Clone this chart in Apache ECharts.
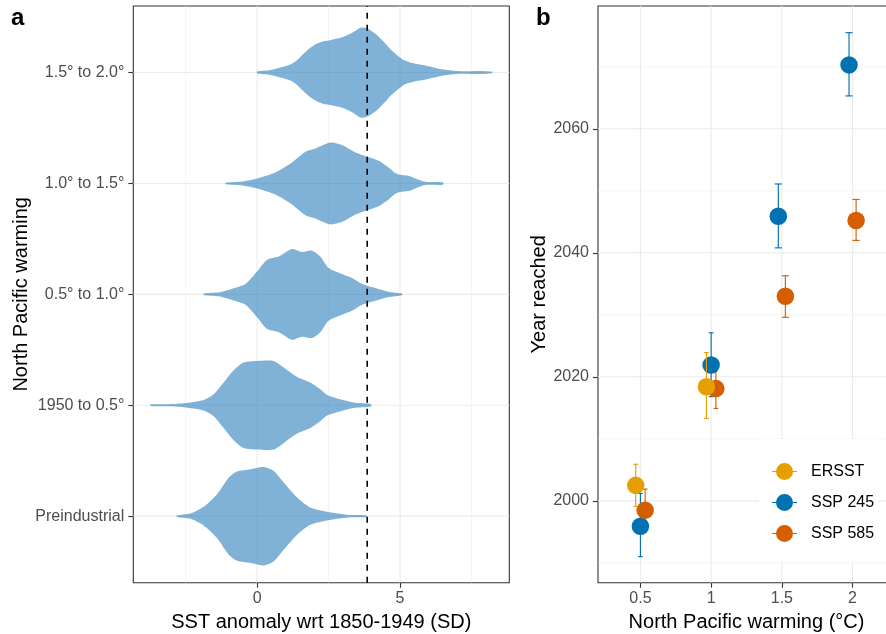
<!DOCTYPE html>
<html>
<head>
<meta charset="utf-8">
<script src="https://cdn.jsdelivr.net/npm/echarts@6/dist/echarts.min.js"></script>
<style>
  html, body { margin: 0; padding: 0; background: #fff; }
  #chart { width: 886px; height: 634px; }
</style>
</head>
<body>
<div id="chart"></div>
<script>
// ---------- Panel a: SST anomaly distributions per North Pacific warming band ----------
const warmingBands = ['Preindustrial', '1950 to 0.5°', '0.5° to 1.0°', '1.0° to 1.5°', '1.5° to 2.0°'];

// Violin outlines: anomaly (SD) and half-width (in band units)
const preindustrialX = [-2.81, -2.33, -1.87, -1.40, -0.99, -0.70, -0.23, 0.23, 0.58, 0.93, 1.40, 1.86, 2.45, 3.15, 3.83];
const preindustrialW = [0.007, 0.024, 0.084, 0.198, 0.349, 0.403, 0.423, 0.444, 0.408, 0.304, 0.168, 0.078, 0.039, 0.012, 0.007];

const to05X = [-3.73, -3.15, -2.57, -1.87, -1.52, -1.17, -0.82, -0.47, 0.00, 0.58, 0.93, 1.40, 1.86, 2.21, 2.45, 2.91, 3.38, 3.98];
const to05W = [0.007, 0.009, 0.018, 0.048, 0.099, 0.205, 0.315, 0.385, 0.399, 0.399, 0.340, 0.255, 0.205, 0.144, 0.093, 0.054, 0.024, 0.011];

const band05to10X = [-1.87, -1.34, -0.87, -0.41, 0.00, 0.35, 0.76, 1.22, 1.57, 1.92, 2.21, 2.50, 2.97, 3.32, 3.67, 4.14, 4.60, 5.07];
const band05to10W = [0.007, 0.018, 0.051, 0.094, 0.207, 0.313, 0.342, 0.409, 0.382, 0.394, 0.342, 0.238, 0.184, 0.148, 0.094, 0.058, 0.024, 0.007];

const band10to15X = [-1.10, -0.52, 0.00, 0.64, 1.22, 1.69, 2.04, 2.56, 2.97, 3.44, 3.85, 4.25, 4.60, 4.83, 5.00, 5.30, 5.53, 5.88, 6.50];
const band10to15W = [0.007, 0.018, 0.045, 0.099, 0.189, 0.286, 0.315, 0.369, 0.346, 0.279, 0.241, 0.205, 0.144, 0.094, 0.078, 0.069, 0.045, 0.015, 0.011];

const band15to20X = [0.00, 0.47, 1.16, 1.40, 1.63, 1.86, 2.10, 2.33, 2.56, 2.80, 3.03, 3.20, 3.38, 3.61, 3.79, 3.96, 4.20, 4.43, 4.66, 4.90, 5.13, 5.36, 5.59, 5.94, 6.52, 7.11, 7.80, 8.22];
const band15to20W = [0.009, 0.022, 0.072, 0.112, 0.171, 0.223, 0.261, 0.283, 0.292, 0.306, 0.322, 0.342, 0.367, 0.405, 0.403, 0.382, 0.337, 0.277, 0.211, 0.157, 0.112, 0.090, 0.076, 0.060, 0.027, 0.012, 0.014, 0.007];

const thresholdSD = 3.85;           // dashed reference line
const sstBreaks = [0, 5];
const sstMinorBreaks = [-2.5, 2.5, 7.5];
const bandBreaks = [1, 2, 3, 4, 5];

// ---------- Panel b: year each warming level is reached ----------
const warmingLevels = ['0.5', '1', '1.5', '2'];
const ersstYear = [2002.5, 2018.4, null, null];
const ersstLow  = [1999.1, 2013.3, null, null];
const ersstHigh = [2005.9, 2023.9, null, null];
const ssp245Year = [1995.9, 2021.9, 2045.9, 2070.3];
const ssp245Low  = [1991.0, 2016.8, 2040.8, 2065.3];
const ssp245High = [2001.2, 2027.1, 2051.1, 2075.5];
const ssp585Year = [1998.5, 2018.1, 2033.0, 2045.2];
const ssp585Low  = [1995.2, 2014.9, 2029.6, 2042.0];
const ssp585High = [2001.9, 2021.4, 2036.3, 2048.6];
const yearBreaks = [2000, 2020, 2040, 2060];
const yearMinorBreaks = [1990, 2010, 2030, 2050, 2070];
const levelBreaks = [1, 2, 3, 4];

const FONT = "'Liberation Sans', Arial, Helvetica, sans-serif";
const GRID_COLOR = '#EBEBEB';
const violinShapes = [
  [preindustrialX, preindustrialW],
  [to05X, to05W],
  [band05to10X, band05to10W],
  [band10to15X, band10to15W],
  [band15to20X, band15to20W]
];

// Reference grid lines drawn through the axis scales
function gridLineSeries(gridIndex, values, vertical, width) {
  return {
    type: 'custom', xAxisIndex: gridIndex, yAxisIndex: gridIndex,
    silent: true, z: 0, animation: false,
    data: values.map(v => [v]),
    renderItem(params, api) {
      const cs = params.coordSys;
      const v = api.value(0);
      if (vertical) {
        const x = api.coord([v, 0])[0];
        return { type: 'line', shape: { x1: x, y1: cs.y, x2: x, y2: cs.y + cs.height },
                 style: { stroke: GRID_COLOR, lineWidth: width } };
      }
      const y = api.coord([0, v])[1];
      return { type: 'line', shape: { x1: cs.x, y1: y, x2: cs.x + cs.width, y2: y },
               style: { stroke: GRID_COLOR, lineWidth: width } };
    }
  };
}

// Dodged positions for panel b (dodge width 0.2, error bar width follows the dodge)
const DODGE = 0.2;
const groups = [
  { name: 'ERSST',   color: '#E69F00', year: ersstYear,  low: ersstLow,  high: ersstHigh },
  { name: 'SSP 245', color: '#0072B2', year: ssp245Year, low: ssp245Low, high: ssp245High },
  { name: 'SSP 585', color: '#D55E00', year: ssp585Year, low: ssp585Low, high: ssp585High }
];
function dodged(gIdx) {
  const out = [];
  warmingLevels.forEach((lvl, j) => {
    if (groups[gIdx].year[j] == null) return;
    const present = groups.map((g, k) => g.year[j] != null ? k : -1).filter(k => k >= 0);
    const n = present.length;
    const pos = present.indexOf(gIdx);
    const x = (j + 1) - DODGE / 2 + DODGE / n * (pos + 0.5);
    out.push({ x, y: groups[gIdx].year[j], lo: groups[gIdx].low[j], hi: groups[gIdx].high[j], cap: DODGE / n });
  });
  return out;
}

function errorBarSeries(gIdx, z) {
  const g = groups[gIdx];
  return {
    type: 'custom', name: g.name, xAxisIndex: 1, yAxisIndex: 1, z, animation: false,
    itemStyle: { color: g.color },
    data: dodged(gIdx).map(d => [d.x, d.lo, d.hi, d.cap]),
    renderItem(params, api) {
      const x = api.value(0);
      const top = api.coord([x, api.value(2)]);
      const bot = api.coord([x, api.value(1)]);
      const half = api.size([api.value(3), 0])[0] / 2;
      const st = { stroke: g.color, lineWidth: 1.15 };
      return { type: 'group', children: [
        { type: 'line', shape: { x1: top[0], y1: top[1], x2: bot[0], y2: bot[1] }, style: st },
        { type: 'line', shape: { x1: top[0] - half, y1: top[1], x2: top[0] + half, y2: top[1] }, style: st },
        { type: 'line', shape: { x1: bot[0] - half, y1: bot[1], x2: bot[0] + half, y2: bot[1] }, style: st }
      ] };
    }
  };
}
function pointSeries(gIdx, z) {
  const g = groups[gIdx];
  return {
    type: 'scatter', name: g.name, xAxisIndex: 1, yAxisIndex: 1, z, animation: false,
    symbol: 'circle', symbolSize: 17.5,
    itemStyle: { color: g.color, opacity: 1 },
    data: dodged(gIdx).map(d => [d.x, d.y])
  };
}

const tickLabel = { fontSize: 16, color: '#4D4D4D', fontFamily: FONT };
const axisTitle = { fontSize: 20, color: '#000', fontFamily: FONT };
const tickStyle = { lineStyle: { color: '#333333', width: 1.1 }, length: 5 };
const hiddenLine = { show: false, onZero: false };
const KEY_ICON = 'path://M0,8H25V9H0ZM4,8.5A8.5,8.5,0,1,1,21,8.5A8.5,8.5,0,1,1,4,8.5Z';

const option = {
  animation: false,
  backgroundColor: '#fff',
  textStyle: { fontFamily: FONT },
  grid: [
    { left: 133.3, top: 6, width: 376, height: 576.7, show: true, borderColor: '#333333', borderWidth: 1.1,
      backgroundColor: 'transparent', containLabel: false, outerBoundsMode: 'none' },
    { left: 598, top: 6, width: 297, height: 576.7, show: true, borderColor: '#333333', borderWidth: 1.1,
      backgroundColor: 'transparent', containLabel: false, outerBoundsMode: 'none' }
  ],
  xAxis: [
    { type: 'value', gridIndex: 0, min: -4.33, max: 8.82, position: 'bottom',
      axisLine: hiddenLine, splitLine: { show: false },
      axisTick: Object.assign({ show: true, customValues: sstBreaks }, tickStyle),
      axisLabel: Object.assign({ customValues: sstBreaks, margin: 8, formatter: v => String(v) }, tickLabel),
      name: 'SST anomaly wrt 1850-1949 (SD)', nameLocation: 'middle', nameGap: 30, nameTextStyle: axisTitle },
    { type: 'value', gridIndex: 1, min: 0.4, max: 4.6, position: 'bottom',
      axisLine: hiddenLine, splitLine: { show: false },
      axisTick: Object.assign({ show: true, customValues: levelBreaks }, tickStyle),
      axisLabel: Object.assign({ customValues: levelBreaks, margin: 8,
        formatter: v => warmingLevels[Math.round(v) - 1] }, tickLabel),
      name: 'North Pacific warming (°C)', nameLocation: 'middle', nameGap: 30, nameTextStyle: axisTitle }
  ],
  yAxis: [
    { type: 'value', gridIndex: 0, min: 0.4, max: 5.6, position: 'left',
      axisLine: hiddenLine, splitLine: { show: false },
      axisTick: Object.assign({ show: true, customValues: bandBreaks }, tickStyle),
      axisLabel: Object.assign({ customValues: bandBreaks, margin: 9,
        formatter: v => warmingBands[Math.round(v) - 1] }, tickLabel),
      name: 'North Pacific warming', nameLocation: 'middle', nameRotate: 90, nameGap: 98, nameTextStyle: axisTitle },
    { type: 'value', gridIndex: 1, min: 1986.8, max: 2079.8, position: 'left',
      axisLine: hiddenLine, splitLine: { show: false },
      axisTick: Object.assign({ show: true, customValues: yearBreaks }, tickStyle),
      axisLabel: Object.assign({ customValues: yearBreaks, margin: 9, formatter: v => String(v) }, tickLabel),
      name: 'Year reached', nameLocation: 'middle', nameRotate: 90, nameGap: 49, nameTextStyle: axisTitle }
  ],
  legend: {
    orient: 'vertical', left: 759, top: 439,
    padding: [24, 4, 20, 13], itemGap: 14, itemWidth: 25, itemHeight: 17,
    backgroundColor: '#fff', selectedMode: false,
    textStyle: { fontSize: 16, color: '#000', fontFamily: FONT, padding: [0, 0, 0, 9] },
    data: groups.map(g => ({ name: g.name, icon: KEY_ICON, itemStyle: { color: g.color } }))
  },
  graphic: [
    { type: 'text', left: 11, top: 6, style: { text: 'a', font: 'bold 24px ' + FONT, fill: '#000' } },
    { type: 'text', left: 536, top: 6, style: { text: 'b', font: 'bold 24px ' + FONT, fill: '#000' } }
  ],
  series: [
    gridLineSeries(0, sstMinorBreaks, true, 0.55),
    gridLineSeries(0, sstBreaks, true, 1.1),
    gridLineSeries(0, bandBreaks, false, 1.1),
    gridLineSeries(1, yearMinorBreaks, false, 0.55),
    gridLineSeries(1, yearBreaks, false, 1.1),
    gridLineSeries(1, levelBreaks, true, 1.1),
    {
      // violins: mirrored density outline around each band position
      type: 'custom', xAxisIndex: 0, yAxisIndex: 0, z: 2, silent: true, animation: false,
      data: warmingBands.map((b, i) => [i + 1]),
      renderItem(params, api) {
        const pos = api.value(0);
        const [xs, ws] = violinShapes[params.dataIndex];
        const upper = xs.map((x, k) => api.coord([x, pos + ws[k]]));
        const lower = xs.map((x, k) => api.coord([x, pos - ws[k]])).reverse();
        return { type: 'polygon', shape: { points: upper.concat(lower), smooth: 0.25 },
                 style: { fill: 'rgba(49,130,189,0.62)', stroke: null } };
      }
    },
    {
      type: 'custom', xAxisIndex: 0, yAxisIndex: 0, z: 3, silent: true, animation: false,
      data: [[thresholdSD]],
      renderItem(params, api) {
        const cs = params.coordSys;
        const x = api.coord([api.value(0), 1])[0];
        return { type: 'line', shape: { x1: x, y1: cs.y + cs.height, x2: x, y2: cs.y },
                 style: { stroke: '#000', lineWidth: 1.6, lineDash: [6, 6] } };
      }
    },
    errorBarSeries(1, 3), errorBarSeries(2, 3),
    pointSeries(1, 4), pointSeries(2, 4),
    errorBarSeries(0, 5), pointSeries(0, 6)
  ]
};

const chart = echarts.init(document.getElementById('chart'), null, { renderer: 'canvas' });
chart.setOption(option);
</script>
</body>
</html>
